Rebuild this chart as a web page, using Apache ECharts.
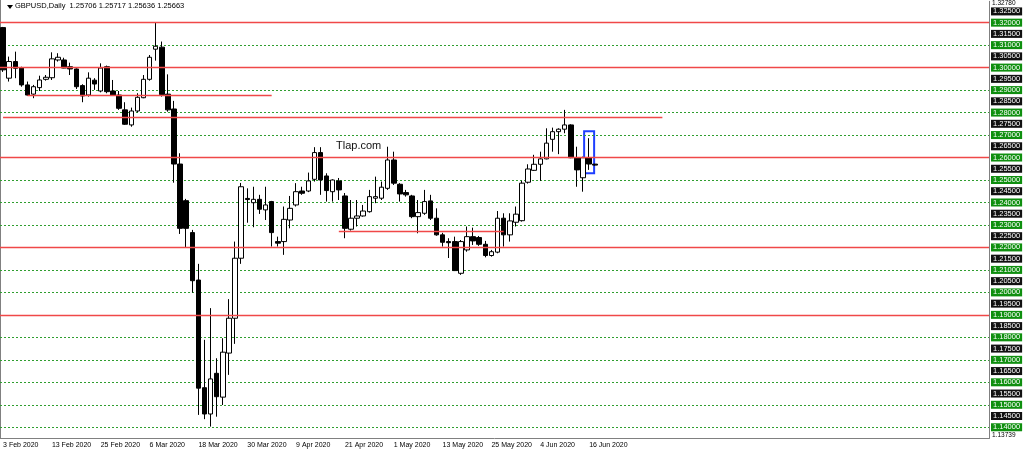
<!DOCTYPE html>
<html lang="en">
<head>
<meta charset="UTF-8">
<title>GBPUSD,Daily</title>
<script src="https://cdn.jsdelivr.net/npm/echarts@6/dist/echarts.min.js"></script>
<style>
  html, body { margin: 0; padding: 0; background: #fff; }
  #chart { width: 1024px; height: 453px; }
</style>
</head>
<body>
<div id="chart"></div>
<script>
// daily bars, 3 Feb 2020 .. 17 Jun 2020
var opens = [
  1.3178, 1.2953, 1.3027, 1.2998, 1.2923, 1.2882, 1.2911, 1.2948, 1.2955, 1.3034,
  1.3034, 1.3004, 1.2994, 1.2920, 1.2878, 1.2944, 1.2896, 1.3004, 1.2896, 1.2878,
  1.2812, 1.2745, 1.2807, 1.2866, 1.2948, 1.3082, 1.3091, 1.2882, 1.2816, 1.2571,
  1.2408, 1.2266, 1.2055, 1.1576, 1.1459, 1.1640, 1.1534, 1.1730, 1.1885, 1.2152,
  1.2418, 1.2399, 1.2414, 1.2367, 1.2404, 1.2226, 1.2226, 1.2322, 1.2389, 1.2451,
  1.2451, 1.2503, 1.2622, 1.2518, 1.2448, 1.2496, 1.2429, 1.2281, 1.2330, 1.2340,
  1.2359, 1.2419, 1.2419, 1.2463, 1.2589, 1.2481, 1.2444, 1.2429, 1.2337, 1.2352,
  1.2407, 1.2330, 1.2256, 1.2226, 1.2226, 1.2085, 1.2189, 1.2248, 1.2244, 1.2214,
  1.2164, 1.2179, 1.2330, 1.2256, 1.2312, 1.2319, 1.2490, 1.2543, 1.2570, 1.2594,
  1.2681, 1.2715, 1.2726, 1.2745, 1.2599, 1.2510, 1.2599, 1.25706
];
var closes = [
  1.2990, 1.3027, 1.2997, 1.2923, 1.2878, 1.2915, 1.2945, 1.2957, 1.3039, 1.3046,
  1.2998, 1.2994, 1.2915, 1.2874, 1.2953, 1.2927, 1.2998, 1.2893, 1.2878, 1.2819,
  1.2748, 1.2807, 1.2868, 1.2948, 1.3046, 1.3095, 1.2880, 1.2812, 1.2571, 1.2285,
  1.2285, 1.2052, 1.1574, 1.1459, 1.1615, 1.1536, 1.1734, 1.1885, 1.2152, 1.2470,
  1.2413, 1.2414, 1.2370, 1.2389, 1.2266, 1.2219, 1.2325, 1.2374, 1.2448, 1.2441,
  1.2496, 1.2622, 1.2500, 1.2453, 1.2500, 1.2456, 1.2285, 1.2330, 1.2340, 1.2362,
  1.2426, 1.2426, 1.2468, 1.2589, 1.2486, 1.2438, 1.2434, 1.2337, 1.2355, 1.2404,
  1.2330, 1.2256, 1.2223, 1.2221, 1.2097, 1.2226, 1.2248, 1.2229, 1.2214, 1.2164,
  1.2181, 1.2330, 1.2256, 1.2318, 1.2348, 1.2486, 1.2549, 1.2570, 1.2594, 1.2664,
  1.2715, 1.2726, 1.2745, 1.2599, 1.2545, 1.2599, 1.2571, 1.25663
];
var lows = [
  1.2981, 1.2938, 1.2953, 1.2915, 1.2875, 1.2864, 1.2896, 1.2942, 1.2945, 1.3027,
  1.2997, 1.2967, 1.2905, 1.2846, 1.2871, 1.2901, 1.2890, 1.2886, 1.2875, 1.2812,
  1.2745, 1.2737, 1.2801, 1.2864, 1.2942, 1.3031, 1.2871, 1.2804, 1.2488, 1.2260,
  1.2201, 1.1999, 1.1455, 1.1436, 1.1403, 1.1447, 1.1499, 1.1633, 1.1771, 1.2127,
  1.2310, 1.2290, 1.2349, 1.2322, 1.2204, 1.2204, 1.2167, 1.2285, 1.2382, 1.2434,
  1.2446, 1.2493, 1.2434, 1.2404, 1.2404, 1.2411, 1.2241, 1.2275, 1.2293, 1.2337,
  1.2355, 1.2397, 1.2411, 1.2456, 1.2478, 1.2404, 1.2426, 1.2330, 1.2263, 1.2345,
  1.2322, 1.2252, 1.2204, 1.2153, 1.2095, 1.2078, 1.2181, 1.2211, 1.2207, 1.2156,
  1.2159, 1.2174, 1.2204, 1.2226, 1.2293, 1.2315, 1.2484, 1.2540, 1.2496, 1.2592,
  1.2626, 1.2615, 1.2708, 1.2597, 1.2470, 1.2448, 1.2545, 1.25636
];
var highs = [
  1.3181, 1.3049, 1.3071, 1.3004, 1.2938, 1.2923, 1.2964, 1.2967, 1.3068, 1.3064,
  1.3044, 1.3022, 1.2997, 1.2926, 1.2979, 1.2953, 1.3019, 1.3009, 1.2945, 1.2896,
  1.2846, 1.2822, 1.2886, 1.2967, 1.3056, 1.3202, 1.3116, 1.2970, 1.2852, 1.2619,
  1.2416, 1.2278, 1.2127, 1.1789, 1.1930, 1.1707, 1.1796, 1.1970, 1.2226, 1.2487,
  1.2463, 1.2470, 1.2434, 1.2470, 1.2407, 1.2248, 1.2382, 1.2429, 1.2486, 1.2470,
  1.2533, 1.2646, 1.2646, 1.2530, 1.2503, 1.2509, 1.2442, 1.2411, 1.2411, 1.2389,
  1.2456, 1.2515, 1.2493, 1.2648, 1.2626, 1.2486, 1.2456, 1.2434, 1.2411, 1.2456,
  1.2434, 1.2374, 1.2265, 1.2241, 1.2248, 1.2233, 1.2293, 1.2288, 1.2251, 1.2229,
  1.2189, 1.2362, 1.2352, 1.2352, 1.2382, 1.2497, 1.2570, 1.2612, 1.2626, 1.2730,
  1.2733, 1.2730, 1.2812, 1.2748, 1.2648, 1.2604, 1.2686, 1.25717
];

// drawn objects
var redLevels = [1.3209, 1.3019, 1.2623, 1.2203, 1.1943];
var redSegments = [  // [from bar, to bar, price]
  [4, 44, 1.2875],
  [0, 108, 1.2779],
  [55, 82, 1.2270]
];
var boxBar = 96, boxTop = 1.2717, boxBottom = 1.2530;
var windowHigh = '1.32780', windowLow = '1.13739';

var totalSlots = 162;   // bars plus empty space on the right
var months = ['Jan','Feb','Mar','Apr','May','Jun','Jul','Aug','Sep','Oct','Nov','Dec'];
var dates = [];
var d = new Date(Date.UTC(2020, 1, 3));
while (dates.length < opens.length) {
    var wd = d.getUTCDay();
    if (wd !== 0 && wd !== 6) {
        dates.push(d.getUTCDate() + ' ' + months[d.getUTCMonth()] + ' ' + d.getUTCFullYear());
    }
    d.setUTCDate(d.getUTCDate() + 1);
}
while (dates.length < totalSlots) dates.push('');

var candles = opens.map(function (o, i) {
    return [o, closes[i], lows[i], highs[i]];
});

function showTick(index) {
    return index % 8 === 0 && index < opens.length;
}

var redLineData = redLevels.map(function (v) { return { yAxis: v }; });
redSegments.forEach(function (s) {
    redLineData.push([{ coord: [s[0], s[2]] }, { coord: [s[1], s[2]] }]);
});

var font = 'Liberation Sans';
var myChart = echarts.init(document.getElementById('chart'));

var option = {
    animation: false,
    backgroundColor: '#ffffff',
    grid: {
        left: 0, top: 1.3, width: 989, height: 437.2,
        containLabel: false, outerBoundsMode: 'none'
    },
    xAxis: {
        type: 'category',
        data: dates,
        boundaryGap: true,
        axisLine: { lineStyle: { color: '#808080', width: 1 } },
        axisTick: { alignWithLabel: true, interval: showTick, length: 4, lineStyle: { color: '#000' } },
        axisLabel: {
            interval: showTick, align: 'left', fontSize: 7, color: '#000',
            fontFamily: font, margin: 3
        },
        splitLine: { show: false }
    },
    yAxis: {
        type: 'value',
        position: 'right',
        min: 1.135,
        max: 1.3295,
        interval: 0.005,
        axisLine: { show: true, lineStyle: { color: '#808080' } },
        axisTick: { show: false },
        axisLabel: {
            margin: 2,
            formatter: function (v) {
                if (v < 1.1375 || v > 1.3255) return '';
                var s = v.toFixed(5);
                var cents = Math.abs(v * 100 - Math.round(v * 100)) < 1e-6;
                return cents ? '{g|' + s + '}' : '{b|' + s + '}';
            },
            rich: {
                g: { backgroundColor: '#0f8f0f', color: '#fff', fontSize: 7.5, fontFamily: font,
                     lineHeight: 8, padding: [0, 2, 0, 2] },
                b: { backgroundColor: '#111111', color: '#fff', fontSize: 7.5, fontFamily: font,
                     lineHeight: 8, padding: [0, 2, 0, 2] }
            }
        },
        splitLine: {
            show: true,
            showMaxLine: false,
            lineStyle: { color: ['rgba(0,0,0,0)', '#2f9e2f'], type: [2, 2], width: 1 }
        }
    },
    series: [
        {
            type: 'candlestick',
            data: candles,
            barWidth: 5,
            itemStyle: {
                color: '#ffffff', color0: '#000000',
                borderColor: '#000000', borderColor0: '#000000', borderWidth: 1
            },
            markLine: {
                silent: true,
                symbol: 'none',
                label: { show: false },
                lineStyle: { color: '#bdbdbd', width: 1, type: 'solid' },
                data: [{ yAxis: closes[closes.length - 1] }]
            }
        },
        {
            type: 'line',
            data: [],
            markLine: {
                silent: true,
                symbol: 'none',
                label: { show: false },
                lineStyle: { color: '#f04848', width: 1.4, type: 'solid' },
                data: redLineData
            }
        }
    ],
    graphic: {
        elements: [
            { type: 'line', shape: { x1: 0.5, y1: 0, x2: 0.5, y2: 438.5 }, style: { stroke: '#808080', lineWidth: 1 } },
            { type: 'polygon', shape: { points: [[7, 5], [13, 5], [10, 9]] }, style: { fill: '#000' } },
            { type: 'text', left: 15, top: 2,
              style: { text: 'GBPUSD,Daily  1.25706 1.25717 1.25636 1.25663', fontSize: 7.5, fontFamily: font, fill: '#000' } },
            { type: 'text', left: 336, top: 140,
              style: { text: 'Tlap.com', fontSize: 11, fontFamily: font, fill: '#111' } },
            { type: 'text', z: -1, left: 992, top: 0,
              style: { text: windowHigh, fontSize: 6.5, fontFamily: font, fill: '#000' } },
            { type: 'text', z: -1, left: 992, top: 432,
              style: { text: windowLow, fontSize: 6.5, fontFamily: font, fill: '#000' } }
        ]
    }
};
myChart.setOption(option);

// blue rectangle around the last finished bar
var pTop = myChart.convertToPixel({ gridIndex: 0 }, [boxBar, boxTop]);
var pBot = myChart.convertToPixel({ gridIndex: 0 }, [boxBar, boxBottom]);
myChart.setOption({
    graphic: {
        elements: [{
            id: 'box', type: 'rect',
            shape: { x: pTop[0] - 5, y: pTop[1], width: 10, height: pBot[1] - pTop[1] },
            style: { fill: 'none', stroke: '#1f3fff', lineWidth: 2 }
        }]
    }
});
</script>
</body>
</html>
